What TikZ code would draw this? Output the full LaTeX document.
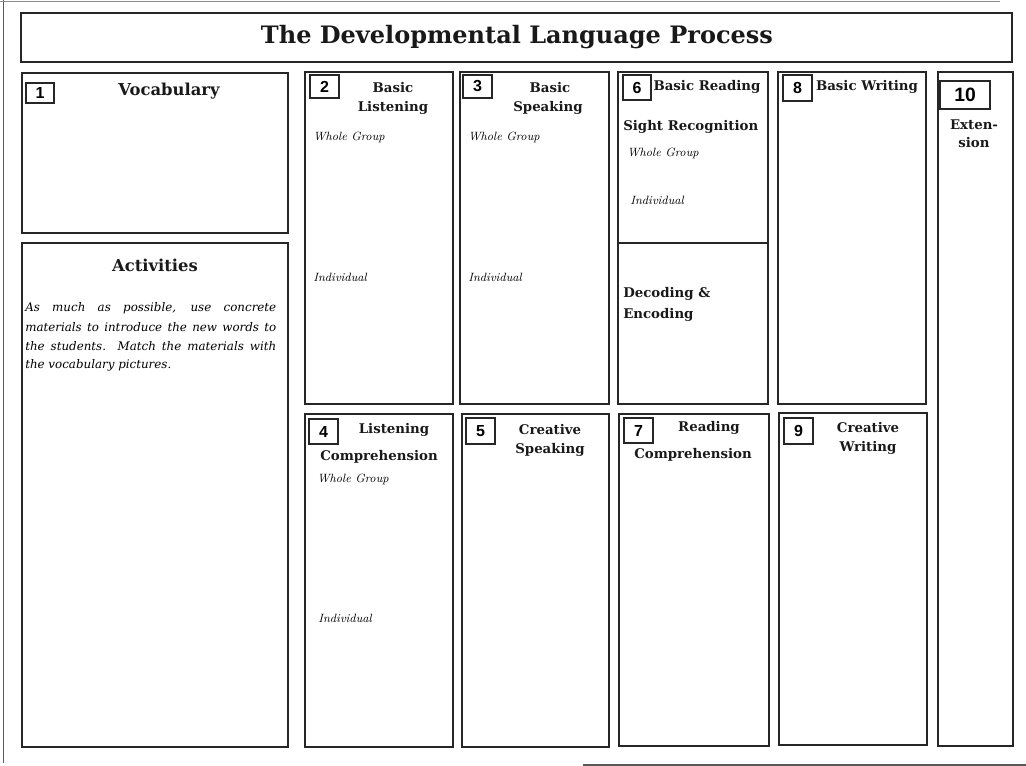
\documentclass[tikz,border=0pt]{standalone}
\usepackage{fontspec}
\setmainfont{DejaVu Serif}
\newfontfamily\numfont{Liberation Sans}
\newfontfamily\lmfont{Latin Modern Roman}
\usetikzlibrary{fit}
\begin{document}
\begin{tikzpicture}[x=0.75pt,y=-0.75pt,
 panel/.style={draw=black!85, line width=0.95pt, inner sep=0pt},
 numbox/.style={draw=black!85, line width=0.95pt, inner sep=0pt},
 numtext/.style={font=\numfont\bfseries\fontsize{12}{13}\selectfont, inner sep=0pt},
 head/.style={font=\bfseries\fontsize{10}{12}\selectfont, inner sep=0pt, text=black!90},
 bighead/.style={font=\bfseries\fontsize{12.3}{14}\selectfont, inner sep=0pt, text=black!90},
 note/.style={font=\lmfont\itshape\fontsize{9}{11}\selectfont, inner sep=0pt, anchor=west},
 para/.style={font=\itshape\fontsize{8.9}{10}\selectfont, inner sep=0pt, anchor=west},
 frame/.style={draw=black!65, line width=0.8pt}
]
\useasboundingbox (0,0) rectangle (1026,766);
% outer frame remnants
\coordinate (fa) at (3.5,0); \coordinate (fb) at (3.5,763);
\coordinate (fc) at (0,1.2); \coordinate (fd) at (1000,1.2);
\coordinate (fe) at (583,765); \coordinate (ff) at (1026,765);
\draw[frame] (fa) -- (fb);
\draw[frame, draw=black!45, line width=0.6pt] (fc) -- (fd);
\draw[frame] (fe) -- (ff);

% title
\node[panel, fit={(21,13)(1012,62)}] (tbox) {};
\node[font=\bfseries\fontsize{18}{21}\selectfont, inner sep=0pt, text=black!90] (title) at (517,37) {The Developmental Language Process};

% panels
\node[panel, fit={(22,73)(288,233)}] (b1) {};
\node[panel, fit={(22,243)(288,747)}] (ba) {};
\node[panel, fit={(305,72)(453,404)}] (b2) {};
\node[panel, fit={(460,72)(609,404)}] (b3) {};
\node[panel, fit={(618,72)(768,404)}] (b6) {};
\node[panel, fit={(778,72)(926,404)}] (b8) {};
\node[panel, fit={(938,72)(1013,746)}] (b10) {};
\node[panel, fit={(305,414)(453,747)}] (b4) {};
\node[panel, fit={(462,414)(609,747)}] (b5) {};
\node[panel, fit={(619,414)(769,746)}] (b7) {};
\node[panel, fit={(779,413)(927,745)}] (b9) {};
\coordinate (dv) at (700,243);
\draw[panel] (b6.west |- dv) -- (b6.east |- dv);

% number boxes
\node[numbox, fit={(26,83)(54,103)}] (n1) {};
\node[numtext] (n1t) at (n1.center) {1};
\node[numbox, fit={(310,75)(339,98)}] (n2) {};
\node[numtext] (n2t) at (n2.center) {2};
\node[numbox, fit={(463,75)(492,98)}] (n3) {};
\node[numtext] (n3t) at (n3.center) {3};
\node[numbox, fit={(623,75)(651,100)}] (n6) {};
\node[numtext] (n6t) at (n6.center) {6};
\node[numbox, fit={(783,75)(812,101)}] (n8) {};
\node[numtext] (n8t) at (n8.center) {8};
\node[numbox, fit={(940,81)(990,109)}] (n10) {};
\node[numtext, font=\numfont\bfseries\fontsize{14.5}{15}\selectfont] (n10t) at (n10.center) {10};
\node[numbox, fit={(309,419)(338,444)}] (n4) {};
\node[numtext] (n4t) at (n4.center) {4};
\node[numbox, fit={(466,418)(495,444)}] (n5) {};
\node[numtext] (n5t) at (n5.center) {5};
\node[numbox, fit={(624,418)(653,443)}] (n7) {};
\node[numtext] (n7t) at (n7.center) {7};
\node[numbox, fit={(784,418)(813,444)}] (n9) {};
\node[numtext] (n9t) at (n9.center) {9};

% headings
\node[bighead] (h1) at (169,91) {Vocabulary};
\node[bighead] (ha) at (155,265) {Activities};
\node[head] (h2a) at (393,88) {Basic};
\node[head] (h2b) at (393,108) {Listening};
\node[head] (h3a) at (550,88) {Basic};
\node[head] (h3b) at (548,108) {Speaking};
\node[head] (h6a) at (707,87) {Basic Reading};
\node[head, anchor=west] (h6b) at (623,127) {Sight Recognition};
\node[head, anchor=west] (h6c) at (623,294) {Decoding \&};
\node[head, anchor=west] (h6d) at (623,315) {Encoding};
\node[head] (h8) at (867,87) {Basic Writing};
\node[head] (h10a) at (974,125) {Exten-};
\node[head] (h10b) at (974,143) {sion};
\node[head] (h4a) at (394,430) {Listening};
\node[head] (h4b) at (379,457) {Comprehension};
\node[head] (h5a) at (550,430) {Creative};
\node[head] (h5b) at (550,450) {Speaking};
\node[head] (h7a) at (709,428) {Reading};
\node[head] (h7b) at (693,455) {Comprehension};
\node[head] (h9a) at (868,428) {Creative};
\node[head] (h9b) at (868,448) {Writing};

% notes
\node[note] (w2) at (313,137) {Whole Group};
\node[note] (i2) at (313,277) {Individual};
\node[note] (w3) at (468,137) {Whole Group};
\node[note] (i3) at (468,277) {Individual};
\node[note] (w6) at (627,153) {Whole Group};
\node[note] (i6) at (630,200) {Individual};
\node[note] (w4) at (317,479) {Whole Group};
\node[note] (i4) at (318,618) {Individual};

% paragraph
\node[para] (p1) at (25,308) {\makebox[188.25pt][s]{As much as possible, use concrete}};
\node[para] (p2) at (25,327) {\makebox[188.25pt][s]{materials to introduce the new words to}};
\node[para] (p3) at (25,346) {\makebox[188.25pt][s]{the students. Match the materials with}};
\node[para] (p4) at (25,365) {the vocabulary pictures.};
\end{tikzpicture}
\end{document}
